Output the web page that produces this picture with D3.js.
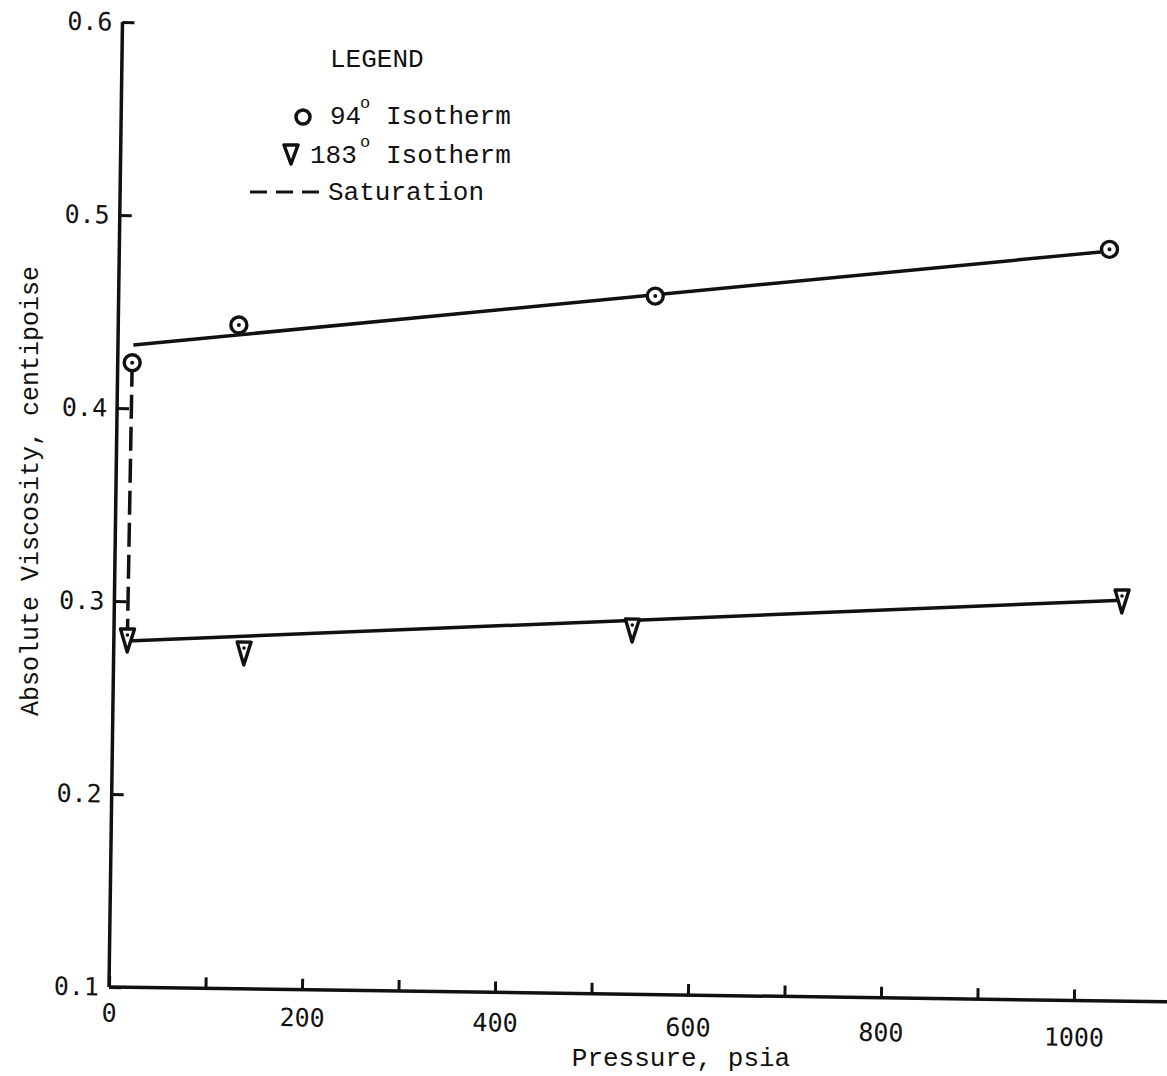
<!DOCTYPE html>
<html>
<head>
<meta charset="utf-8">
<script src="https://cdn.jsdelivr.net/npm/d3@7"></script>
<style>
  html, body { margin: 0; padding: 0; background: #fff; }
  svg { display: block; }
  .num { font-family: "DejaVu Sans Mono", monospace; font-size: 25px; fill: #111; }
  .txt { font-family: "Liberation Mono", "Courier New", monospace; font-size: 26px; fill: #111; }
</style>
</head>
<body>
<svg id="chart" width="1167" height="1076"></svg>
<script>
// Pressure (psia) and absolute viscosity (centipoise) readings
const iso94Pressure = [15, 125, 556, 1026];
const iso94Viscosity = [0.4236, 0.4439, 0.4619, 0.4894];
const iso183Pressure = [14, 135, 537, 1044];
const iso183Viscosity = [0.2820, 0.2761, 0.2908, 0.3094];

// Straight-line fits drawn through each isotherm
const fit94 = [[16, 0.4328], [1017, 0.4880]];
const fit183 = [[14, 0.2794], [1044, 0.3077]];

// Saturation link between the two lowest-pressure points
const saturation = [[15, 0.4236], [14, 0.2820]];

const xTicks = [0, 100, 200, 300, 400, 500, 600, 700, 800, 900, 1000];
const yTicks = [0.1, 0.2, 0.3, 0.4, 0.5, 0.6];

const svg = d3.select("#chart");
const ink = "#111";

// Plot frame (slightly turned, as on the original sheet)
const g = svg.append("g").attr("transform", "translate(109,987) rotate(0.8)");

const x = d3.scaleLinear().domain([0, 1000]).range([0, 965]);
const y = d3.scaleLinear().domain([0.1, 0.6]).range([0, -965]);

// X axis: ticks point inward, only every other tick is labelled
const xAxis = d3.axisBottom(x)
  .tickValues(xTicks)
  .tickSize(-11)
  .tickPadding(22)
  .tickFormat(d => d % 200 === 0 ? d3.format("d")(d) : "");
const gx = g.append("g").call(xAxis);
gx.select(".domain").remove();
gx.selectAll(".tick line").attr("stroke", ink).attr("stroke-width", 3);
gx.selectAll(".tick text").attr("class", "num").attr("fill", ink).attr("dy", "0.5em")
  .attr("transform", d => `translate(0,${d * 0.011})`);
g.append("line")
  .attr("x1", x(0)).attr("x2", x(1130))
  .attr("y1", 0).attr("y2", 0)
  .attr("stroke", ink).attr("stroke-width", 3.5);

// Y axis
const yAxis = d3.axisLeft(y)
  .tickValues(yTicks)
  .tickSize(-12)
  .tickPadding(10)
  .tickFormat(d3.format(".1f"));
const gy = g.append("g").call(yAxis);
gy.select(".domain").remove();
gy.selectAll(".tick line").attr("stroke", ink).attr("stroke-width", 3);
gy.selectAll(".tick text").attr("class", "num").attr("fill", ink);
g.append("line")
  .attr("x1", 0).attr("x2", 0)
  .attr("y1", y(0.1)).attr("y2", y(0.6))
  .attr("stroke", ink).attr("stroke-width", 3.5);

const line = d3.line().x(d => x(d[0])).y(d => y(d[1]));

// Fitted isotherm lines
g.append("path").attr("d", line(fit94)).attr("fill", "none")
  .attr("stroke", ink).attr("stroke-width", 3.5);
g.append("path").attr("d", line(fit183)).attr("fill", "none")
  .attr("stroke", ink).attr("stroke-width", 3.5);

// Saturation (dashed)
g.append("path").attr("d", line(saturation)).attr("fill", "none")
  .attr("stroke", ink).attr("stroke-width", 3.5)
  .attr("stroke-dasharray", "24,8");

// 94° isotherm markers: open circle with centre dot
const pts94 = iso94Pressure.map((p, i) => [p, iso94Viscosity[i]]);
const c94 = g.selectAll(".m94").data(pts94).enter().append("g")
  .attr("transform", d => `translate(${x(d[0])},${y(d[1])})`);
c94.append("circle").attr("r", 8).attr("fill", "#fff")
  .attr("stroke", ink).attr("stroke-width", 3.4);
c94.append("circle").attr("r", 2).attr("fill", ink);

// 183° isotherm markers: point-down triangle with dot
const tri = "M-7,-7 L7,-7 L0,16 Z";
const pts183 = iso183Pressure.map((p, i) => [p, iso183Viscosity[i]]);
const t183 = g.selectAll(".m183").data(pts183).enter().append("g")
  .attr("transform", d => `translate(${x(d[0])},${y(d[1])})`);
t183.append("path").attr("d", tri).attr("fill", "#fff")
  .attr("stroke", ink).attr("stroke-width", 3.4).attr("stroke-linejoin", "round");
t183.append("circle").attr("r", 1.8).attr("cy", -1).attr("fill", ink);

// Axis titles
svg.append("text").attr("class", "txt")
  .attr("x", 681).attr("y", 1066).attr("text-anchor", "middle")
  .text("Pressure, psia");
svg.append("text").attr("class", "txt")
  .attr("transform", "translate(38,491) rotate(-90)")
  .attr("text-anchor", "middle").style("font-size", "25px")
  .text("Absolute Viscosity, centipoise");

// Legend
const lg = svg.append("g");
lg.append("text").attr("class", "txt").attr("x", 330).attr("y", 67).text("LEGEND");

lg.append("circle").attr("cx", 303).attr("cy", 117).attr("r", 7)
  .attr("fill", "#fff").attr("stroke", ink).attr("stroke-width", 3.5);
lg.append("text").attr("class", "txt").attr("x", 330).attr("y", 124).text("94");
lg.append("text").attr("class", "txt").attr("x", 360).attr("y", 108)
  .style("font-size", "17px").text("o");
lg.append("text").attr("class", "txt").attr("x", 386).attr("y", 124).text("Isotherm");

lg.append("path").attr("d", "M284,145 L298,145 L291,164 Z")
  .attr("fill", "#fff").attr("stroke", ink).attr("stroke-width", 3.5)
  .attr("stroke-linejoin", "round");
lg.append("text").attr("class", "txt").attr("x", 310).attr("y", 163).text("183");
lg.append("text").attr("class", "txt").attr("x", 360).attr("y", 147)
  .style("font-size", "17px").text("o");
lg.append("text").attr("class", "txt").attr("x", 386).attr("y", 163).text("Isotherm");

lg.append("line").attr("x1", 250).attr("x2", 322).attr("y1", 192).attr("y2", 192)
  .attr("stroke", ink).attr("stroke-width", 3).attr("stroke-dasharray", "17,9");
lg.append("text").attr("class", "txt").attr("x", 328).attr("y", 200).text("Saturation");
</script>
</body>
</html>
